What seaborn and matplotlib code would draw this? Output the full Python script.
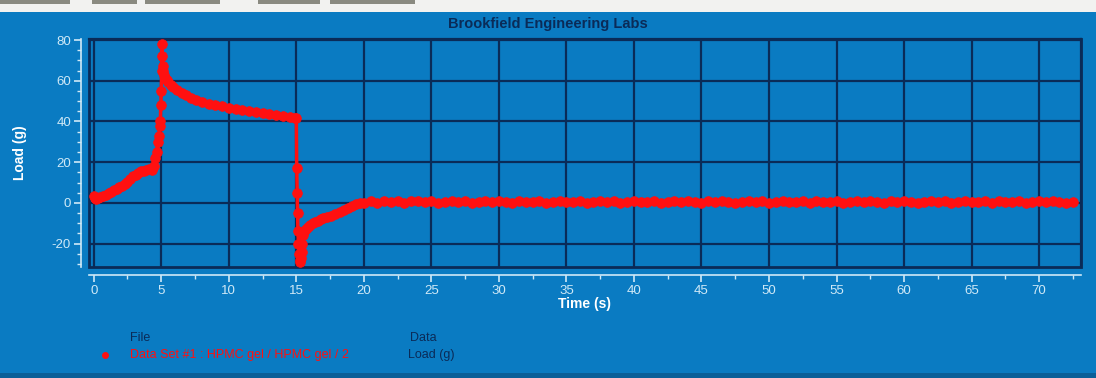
import numpy as np
import pandas as pd
import matplotlib
matplotlib.use("Agg")
import matplotlib.pyplot as plt
from matplotlib.lines import Line2D
from matplotlib.patches import Rectangle
from matplotlib.ticker import MultipleLocator
import seaborn as sns

# ---- data ----
time_rise = [0.0, 0.1, 0.2, 0.3, 0.5, 0.7, 0.9, 1.1, 1.3, 1.5, 1.7, 1.9, 2.1, 2.3, 2.5, 2.7,
             2.9, 3.1, 3.3, 3.5, 3.7, 3.9, 4.1, 4.3, 4.45, 4.55, 4.65, 4.75, 4.82, 4.88,
             4.93, 4.97, 5.0, 5.03, 5.06]
load_rise = [3.5, 2.5, 2.0, 2.5, 3.0, 3.5, 4.0, 5.0, 5.5, 6.5, 7.0, 8.0, 8.5, 9.5, 10.5, 11.5,
             13.0, 13.5, 14.5, 15.5, 15.5, 16.0, 16.5, 16.0, 18.0, 22.0, 25.0, 30.0, 33.0, 38.0,
             40.0, 48.0, 55.0, 65.0, 78.0]
time_relax = [5.08, 5.12, 5.16, 5.2, 5.3, 5.4, 5.5, 5.7, 5.9, 6.2, 6.5, 6.8, 7.2, 7.6, 8.0,
              8.5, 9.0, 9.5, 10.0, 10.5, 11.0, 11.5, 12.0, 12.5, 13.0, 13.5, 14.0, 14.5, 14.9]
load_relax = [72.0, 67.0, 65.0, 63.0, 61.5, 60.5, 59.5, 58.0, 57.0, 55.5, 54.0, 53.0, 51.5,
              50.5, 49.5, 48.8, 48.0, 47.4, 46.8, 46.3, 45.8, 45.3, 44.8, 44.3, 43.8, 43.3,
              42.8, 42.2, 41.8]
time_drop = [15.0, 15.03, 15.06, 15.09, 15.12, 15.16, 15.2, 15.25, 15.3, 15.35, 15.4, 15.45,
             15.5, 15.6, 15.7, 15.85, 16.0, 16.2, 16.4, 16.6, 16.8, 17.0, 17.3, 17.6, 17.9,
             18.2, 18.5, 18.8, 19.1, 19.4, 19.7]
load_drop = [41.5, 17.0, 5.0, -5.0, -14.0, -20.0, -25.0, -28.0, -29.0, -27.0, -24.0, -20.0,
             -16.0, -14.0, -13.0, -12.0, -11.0, -10.0, -9.5, -9.0, -8.0, -7.5, -7.0, -6.5,
             -5.5, -4.5, -3.5, -2.5, -1.5, -0.5, 0.0]
time_flat = [20.0, 20.5, 21.0, 21.5, 22.0, 22.5, 23.0, 23.5, 24.0, 24.5, 25.0, 25.5, 26.0,
             26.5, 27.0, 27.5, 28.0, 28.5, 29.0, 29.5, 30.0, 30.5, 31.0, 31.5, 32.0, 32.5,
             33.0, 33.5, 34.0, 34.5, 35.0, 35.5, 36.0, 36.5, 37.0, 37.5, 38.0, 38.5, 39.0,
             39.5, 40.0, 40.5, 41.0, 41.5, 42.0, 42.5, 43.0, 43.5, 44.0, 44.5, 45.0, 45.5,
             46.0, 46.5, 47.0, 47.5, 48.0, 48.5, 49.0, 49.5, 50.0, 50.5, 51.0, 51.5, 52.0,
             52.5, 53.0, 53.5, 54.0, 54.5, 55.0, 55.5, 56.0, 56.5, 57.0, 57.5, 58.0, 58.5,
             59.0, 59.5, 60.0, 60.5, 61.0, 61.5, 62.0, 62.5, 63.0, 63.5, 64.0, 64.5, 65.0,
             65.5, 66.0, 66.5, 67.0, 67.5, 68.0, 68.5, 69.0, 69.5, 70.0, 70.5, 71.0, 71.5,
             72.0, 72.5]
load_flat = [0.1, 0.8, 0.0, 0.9, 0.3, 1.0, 0.1, 0.7, 1.1, 0.2, 0.8, 0.0, 0.6, 1.0, 0.2,
             0.9, 0.1, 0.6, 0.9, 0.2, 1.0, 0.5, 0.0, 0.9, 0.2, 0.6, 1.0, 0.1, 0.6, 0.9,
             0.2, 0.6, 1.0, 0.0, 0.6, 0.9, 0.2, 0.9, 0.0, 0.6, 1.0, 0.2, 0.6, 0.9, 0.1,
             0.6, 1.0, 0.2, 0.9, 0.5, 0.0, 0.9, 0.2, 1.0, 0.5, 0.1, 0.6, 0.9, 0.2, 1.0,
             0.0, 0.6, 0.9, 0.2, 0.6, 1.0, 0.1, 0.9, 0.5, 0.2, 0.9, 0.0, 0.6, 1.0, 0.2,
             0.9, 0.5, 0.1, 0.9, 0.2, 1.0, 0.5, 0.0, 0.6, 0.9, 0.2, 1.0, 0.1, 0.6, 0.9,
             0.2, 0.6, 1.0, 0.0, 0.9, 0.5, 0.2, 0.9, 0.1, 0.6, 1.0, 0.2, 0.9, 0.5, 0.1,
             0.6]

title = "Brookfield Engineering Labs"
x_label = "Time (s)"
y_label = "Load (g)"
legend_file = "Data Set #1 : HPMC gel / HPMC gel / 2"
legend_data = "Load (g)"

df = pd.DataFrame({
    "time": time_rise + time_relax + time_drop + time_flat,
    "load": load_rise + load_relax + load_drop + load_flat,
})

BLUE = "#0a7bc2"
NAVY = "#0a2b58"
LIGHT = "#cfe9f7"
RED = "#ff1010"

sns.set_theme(style="white")
plt.rcParams["font.family"] = ["Liberation Sans", "DejaVu Sans"]
plt.rcParams["axes.unicode_minus"] = False

fig = plt.figure(figsize=(10.96, 3.78), dpi=100)
fig.patch.set_facecolor(BLUE)
# top light strip of the window
fig.add_artist(Rectangle((0, 1 - 12 / 378), 1, 12 / 378, transform=fig.transFigure,
                         facecolor="#f2f2f0", edgecolor="none"))
for x0, w in [(0, 70), (92, 45), (145, 75), (258, 62), (330, 85)]:
    fig.add_artist(Rectangle((x0 / 1096, 1 - 4 / 378), w / 1096, 4 / 378,
                             transform=fig.transFigure, facecolor="#8a8a80", edgecolor="none"))
fig.add_artist(Rectangle((0, 0), 1, 5 / 378, transform=fig.transFigure,
                         facecolor="#0a5f98", edgecolor="none"))

ax = fig.add_axes([89 / 1096, 1 - 267 / 378, (1081 - 89) / 1096, (267 - 39) / 378])
ax.set_facecolor(BLUE)

sns.lineplot(data=df, x="time", y="load", ax=ax, color=RED, linewidth=2.5,
             marker="o", markersize=7, markeredgecolor=RED, markeredgewidth=0.5,
             sort=False, estimator=None, zorder=3)

ax.set_xlim(-0.35, 73.1)
ax.set_ylim(-31.5, 80.5)
ax.xaxis.set_major_locator(MultipleLocator(5))
ax.xaxis.set_minor_locator(MultipleLocator(2.5))
ax.yaxis.set_major_locator(MultipleLocator(20))
ax.yaxis.set_minor_locator(MultipleLocator(5))
ax.grid(True, which="major", color=NAVY, linewidth=1.6)
ax.set_axisbelow(True)

for side in ["top", "right"]:
    ax.spines[side].set_color(NAVY)
    ax.spines[side].set_linewidth(1.6)
for side in ["left", "bottom"]:
    ax.spines[side].set_position(("outward", 6))
    ax.spines[side].set_color(LIGHT)
    ax.spines[side].set_linewidth(1.2)
ax.patch.set_edgecolor(NAVY)
ax.patch.set_linewidth(2.0)

ax.tick_params(axis="both", which="major", direction="out", length=5, width=1.2,
               color=LIGHT, labelcolor=LIGHT, labelsize=9.5, pad=2)
ax.tick_params(axis="both", which="minor", direction="out", length=3, width=1.0,
               color=LIGHT)
ax.tick_params(axis="x", which="both", bottom=True)
ax.tick_params(axis="y", which="both", left=True)

ax.set_xlabel(x_label, color="white", fontweight="bold", fontsize=10, labelpad=0)
ax.set_ylabel(y_label, color="white", fontweight="bold", fontsize=10, labelpad=18)
fig.text(0.5, 1 - 24 / 378, title, color=NAVY, fontweight="bold", fontsize=10.5,
         ha="center", va="center")

# legend block
fig.text(130 / 1096, 1 - 338 / 378, "File", color=NAVY, fontsize=9, va="center")
fig.text(410 / 1096, 1 - 338 / 378, "Data", color=NAVY, fontsize=9, va="center")
fig.add_artist(Line2D([105 / 1096], [1 - 355 / 378], transform=fig.transFigure,
                      marker="o", markersize=4, color=RED, linestyle="none"))
fig.text(130 / 1096, 1 - 355 / 378, legend_file, color=RED, fontsize=9, va="center")
fig.text(408 / 1096, 1 - 355 / 378, legend_data, color=NAVY, fontsize=9, va="center")

fig.savefig("out.png", dpi=100, facecolor=fig.get_facecolor())
